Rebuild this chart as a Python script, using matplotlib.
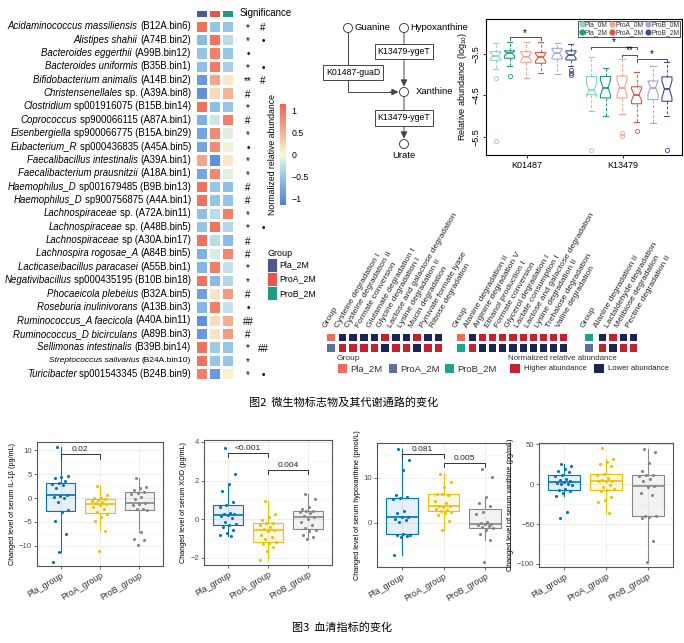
import matplotlib
matplotlib.use('Agg')
import matplotlib.pyplot as plt
from matplotlib.colors import LinearSegmentedColormap, ListedColormap, Normalize
from matplotlib.patches import Rectangle, Circle
from matplotlib.lines import Line2D
import numpy as np

W, H = 684, 643
SANS = ['Liberation Sans', 'DejaVu Sans']
CJK = ['Noto Sans CJK SC', 'DejaVu Sans']
plt.rcParams['font.family'] = SANS
plt.rcParams['mathtext.fontset'] = 'custom'
plt.rcParams['mathtext.rm'] = 'Liberation Sans'
plt.rcParams['mathtext.it'] = 'Liberation Sans:italic'

# ---------------- data: marker species heatmap ----------------
species_italic = [
    'Acidaminococcus massiliensis', 'Alistipes shahii', 'Bacteroides eggerthii',
    'Bacteroides uniformis', 'Bifidobacterium animalis', 'Christensenellales',
    'Clostridium', 'Coprococcus', 'Eisenbergiella', 'Eubacterium_R',
    'Faecalibacillus intestinalis', 'Faecalibacterium prausnitzii',
    'Haemophilus_D', 'Haemophilus_D', 'Lachnospiraceae', 'Lachnospiraceae',
    'Lachnospiraceae', 'Lachnospira rogosae_A', 'Lacticaseibacillus paracasei',
    'Negativibacillus', 'Phocaeicola plebeius', 'Roseburia inulinivorans',
    'Ruminococcus_A faecicola', 'Ruminococcus_D bicirculans',
    'Sellimonas intestinalis', 'Streptococcus salivarius', 'Turicibacter']
species_rest = [
    '(B12A.bin6)', '(A74B.bin2)', '(A99B.bin12)', '(B35B.bin1)', '(A14B.bin2)',
    'sp. (A39A.bin8)', 'sp001916075 (B15B.bin14)', 'sp900066115 (A87A.bin1)',
    'sp900066775 (B15A.bin29)', 'sp000436835 (A45A.bin5)', '(A39A.bin1)',
    '(A18A.bin1)', 'sp001679485 (B9B.bin13)', 'sp900756875 (A4A.bin1)',
    'sp. (A72A.bin11)', 'sp. (A48B.bin5)', 'sp (A30A.bin17)', '(A84B.bin5)',
    '(A55B.bin1)', 'sp000435195 (B10B.bin18)', '(B32A.bin5)', '(A13B.bin3)',
    '(A40A.bin11)', '(A89B.bin3)', '(B39B.bin14)', '(B24A.bin10)',
    'sp001543345 (B24B.bin9)']
abund_pla = [1.0, -0.6, -0.5, -0.55, -0.9, -1.0, 1.0, -0.7, -0.8, -0.8, 0.6, -0.8, 1.0, 1.0,
             -0.55, -0.5, 1.0, -0.7, -0.65, 1.0, -0.85, -0.65, -1.0, -0.9, 1.0, 1.0, 0.9]
abund_proa = [-0.5, 1.0, 0.9, 0.95, 0.6, 0.2, -0.55, -0.2, 0.8, 0.8, -1.0, 0.85, -0.5, -0.5,
              -0.3, 1.0, -0.3, -0.15, 0.9, -0.6, 0.15, 0.9, 0.2, 0.15, -0.45, -0.5, -0.9]
abund_prob = [-0.5, -0.3, -0.5, -0.4, 0.1, 0.5, -0.5, 0.9, -0.1, -0.05, 0.1, -0.1, -0.55, -0.5,
              0.9, -0.35, -0.6, 0.85, -0.25, -0.35, 0.7, -0.25, 0.55, 0.7, -0.5, -0.5, 0.05]
sig_a = ['*', '*', '•', '*', '**', '#', '*', '#', '*', '•', '*', '*', '#', '#',
         '*', '*', '#', '#', '*', '*', '#', '•', '##', '#', '*', '*', '*']
sig_b = ['#', '•', '', '•', '#', '', '', '', '', '', '', '', '', '',
         '', '•', '', '', '', '', '', '', '', '', '##', '', '•']
hm_groups = ['Pla_2M', 'ProA_2M', 'ProB_2M']

# ---------------- data: K01487 / K13479 boxplots (log10) ----------------
ko_genes = ['K01487', 'K13479']
ko_groups = ['Pla_0M', 'Pla_2M', 'ProA_0M', 'ProA_2M', 'ProB_0M', 'ProB_2M']
k01487_hi = [-3.24, -3.21, -3.21, -3.21, -3.24, -3.26]
k01487_q3 = [-3.44, -3.42, -3.44, -3.46, -3.36, -3.42]
k01487_med = [-3.54, -3.48, -3.56, -3.58, -3.48, -3.52]
k01487_q1 = [-3.65, -3.60, -3.70, -3.72, -3.62, -3.64]
k01487_lo = [-3.87, -3.78, -4.07, -3.95, -3.99, -3.78]
k01487_out = [[-4.07, -5.60], [-4.03], [], [], [], [-3.88, -3.95, -4.01]]
k13479_hi = [-3.58, -3.83, -3.62, -3.93, -3.78, -3.69]
k13479_q3 = [-4.04, -4.04, -4.03, -4.29, -4.15, -4.05]
k13479_med = [-4.37, -4.31, -4.31, -4.48, -4.31, -4.35]
k13479_q1 = [-4.48, -4.56, -4.56, -4.70, -4.60, -4.64]
k13479_lo = [-4.88, -5.00, -4.96, -5.13, -5.17, -5.00]
k13479_out = [[-5.83], [], [-5.41, -5.49], [-5.37], [], [-5.82]]

# ---------------- data: pathway heatmaps (1 = higher, 0 = lower) ----------------
pw1_labels = ['Cysteine degradation I', 'Cysteine degradation II', 'Formate conversion',
              'Glutamate degradation I', 'Glycine degradation I',
              'Lactose and galactose degradation', 'Lysine degradation II',
              'Mucin degradation', 'Pyruvate formate lyase', 'Ribose degradation']
pw1_groups = ['Pla_2M', 'ProA_2M']
pw1_top = [0, 0, 0, 0, 1, 0, 0, 1, 0, 0]
pw1_bot = [1, 1, 1, 1, 0, 1, 1, 0, 1, 1]
pw2_labels = ['Alanine degradation II', 'Arginine degradation V', 'Ethanol production I',
              'Formate conversion', 'Glycerol degradation I', 'Lactate consumption I',
              'Lactose and galactose degradation', 'Lysine degradation II',
              'Trehalose degradation', 'Valine degradation']
pw2_groups = ['Pla_2M', 'ProB_2M']
pw2_top = [0, 1, 1, 1, 1, 1, 1, 1, 1, 1]
pw2_bot = [1, 0, 0, 0, 0, 0, 0, 0, 0, 0]
pw3_labels = ['Alanine degradation II', 'Lactaldehyde degradation',
              'Melibiose degradation', 'Pectine degradation II']
pw3_groups = ['ProB_2M', 'ProA_2M']
pw3_top = [0, 1, 0, 0]
pw3_bot = [1, 0, 1, 1]

# ---------------- data: serum indices ----------------
serum_groups = ['Pla_group', 'ProA_group', 'ProB_group']
il1b_pla = [10.6, 4.7, 4.3, 4.1, 3.6, 3.1, 3.0, 2.8, 2.0, 0.7, 0.5, 0.3, 0.0, -0.9,
            -2.6, -2.9, -4.7, -7.5, -11.2, -13.3]
il1b_proa = [2.6, 0.6, 0.0, -0.1, -0.2, -0.4, -0.6, -0.9, -1.1, -1.3, -1.5, -1.8, -2.2,
             -2.9, -3.3, -4.0, -4.8, -6.9, -11.1]
il1b_prob = [4.2, 2.3, 2.1, 1.7, 1.3, 1.1, 0.8, 0.3, -0.3, -1.1, -1.2, -1.4, -2.2, -2.3,
             -2.6, -7.2, -8.5, -8.8, -9.8]
xod_pla = [3.7, 2.35, 1.83, 1.45, 0.9, 0.74, 0.65, 0.3, 0.28, 0.25, 0.22, 0.18, 0.05,
           -0.12, -0.24, -0.3, -0.42, -0.55, -0.72, -0.8, -0.85]
xod_proa = [0.92, 0.28, 0.1, -0.05, -0.18, -0.2, -0.3, -0.4, -0.5, -0.55, -0.6, -0.8,
            -0.9, -1.05, -1.2, -1.22, -1.3, -1.45, -1.65, -2.1]
xod_prob = [1.3, 1.05, 0.62, 0.55, 0.45, 0.42, 0.35, 0.3, 0.15, 0.1, 0.02, -0.15, -0.3,
            -0.45, -0.55, -0.62, -0.8, -0.92, -1.03]
hyp_pla = [16.3, 14.0, 11.8, 6.1, 5.7, 5.4, 5.2, 2.6, 2.1, 1.3, 1.2, 0.8, 0.5, 0.1,
           -2.7, -2.6, -2.8, -3.0, -3.3, -7.2]
hyp_proa = [10.7, 9.1, 8.0, 6.4, 6.2, 6.3, 4.7, 4.3, 3.8, 3.6, 3.4, 3.1, 2.8, 2.6, 2.4,
            2.2, 1.8, 0.4, -1.7]
hyp_prob = [12.0, 10.1, 5.8, 4.3, 3.6, 2.4, 2.0, 0.2, -0.1, -0.2, -0.3, -0.5, -0.7,
            -1.0, -1.2, -1.6, -2.6, -3.8, -8.7]
xan_pla = [25.5, 23.0, 19.0, 16.0, 15.0, 11.5, 10.0, 7.0, 5.0, 3.5, 2.5, 2.0, 0.5, 0.0,
           -1.0, -6.5, -7.0, -8.0, -10.5, -15.0, -34.5, -42.0]
xan_proa = [45.5, 31.5, 27.5, 25.0, 22.5, 13.0, 11.0, 8.0, 5.5, 4.5, 4.2, 3.4, -0.8,
            -4.0, -6.5, -7.2, -9.0, -15.5, -19.5, -22.0, -35.7]
xan_prob = [44.0, 41.0, 26.5, 17.0, 11.5, 11.0, 10.0, 7.0, 4.0, -2.0, -3.0, -11.0,
            -13.5, -39.5, -40.0, -41.0, -42.0, -71.0, -98.0]

# ---------------- figure ----------------
fig = plt.figure(figsize=(W / 100, H / 100), dpi=100)


def px_axes(x0, y0, x1, y1):
    return fig.add_axes([x0 / W, 1 - y1 / H, (x1 - x0) / W, (y1 - y0) / H])


cv = fig.add_axes([0, 0, 1, 1], zorder=10)
cv.set_xlim(0, W)
cv.set_ylim(H, 0)
cv.axis('off')
cv.patch.set_visible(False)
renderer = fig.canvas.get_renderer()

# ---- panel: species heatmap ----
hm_cmap = LinearSegmentedColormap.from_list(
    'hm', [(0, '#4f80dc'), (0.27, '#8fc3e9'), (0.43, '#d4ebe6'), (0.5, '#fcf6d4'),
           (0.72, '#f8b193'), (1, '#f2604e')])
hm_norm = Normalize(-1.15, 1.15)
n_sp = len(species_italic)
top_hm, bot_hm = 19.5, 380.5
row_h = (bot_hm - top_hm) / n_sp

ax_hd = px_axes(195, 8.5, 234, 18)
ax_hd.pcolormesh(np.arange(3).reshape(1, 3),
                 cmap=ListedColormap(['#4a5a8a', '#e4574a', '#1c9c84']),
                 edgecolors='white', linewidth=0.8)
ax_hd.axis('off')

ax_hm = px_axes(195, top_hm, 234, bot_hm)
mat = np.array([abund_pla, abund_proa, abund_prob]).T
mesh = ax_hm.pcolormesh(mat, cmap=hm_cmap, norm=hm_norm, edgecolors='white', linewidth=0.8)
ax_hm.set_ylim(n_sp, 0)
ax_hm.axis('off')

for i in range(n_sp):
    y = top_hm + (i + 0.5) * row_h
    fs = 6.0 if species_italic[i].startswith('Streptococcus') else 6.9
    t = cv.text(191, y, species_rest[i], ha='right', va='center', fontsize=fs)
    bb = t.get_window_extent(renderer)
    xl = cv.transData.inverted().transform((bb.x0, bb.y0))[0]
    cv.text(xl - 0.38 * fs, y, species_italic[i], ha='right', va='center',
            fontsize=fs, style='italic')
    cv.text(248, y + 1.5, sig_a[i], ha='center', va='center', fontsize=7)
    cv.text(263, y + 1.5, sig_b[i], ha='center', va='center', fontsize=7)
cv.text(240, 12.5, 'Significance', ha='left', va='center', fontsize=7)

cax = px_axes(280, 104, 286, 205)
cb = fig.colorbar(mesh, cax=cax, ticks=[-1, -0.5, 0, 0.5, 1])
cb.ax.set_yticklabels(['\u22121', '\u22120.5', '0', '0.5', '1'])
cb.outline.set_visible(False)
cb.ax.tick_params(length=2, width=0.5, color='white', labelsize=6.3, pad=2)
cb.ax.yaxis.set_label_position('left')
cb.ax.set_ylabel('Normalized relative abundance', fontsize=6.3, labelpad=2)

cv.text(267, 254, 'Group', ha='left', va='center', fontsize=6.5)
for k, (g, c) in enumerate(zip(hm_groups, ['#4a5a8a', '#e4574a', '#1c9c84'])):
    cv.add_patch(Rectangle((267, 258 + k * 14.2), 10, 13.5, fc=c, ec='white', lw=0.6))
    cv.text(279, 265 + k * 14.2, g, ha='left', va='center', fontsize=6.3)

# ---- panel: pathway diagram ----
lc = '#444444'
for cx, cy, name in [(348, 28, 'Guanine'), (404, 28, 'Hypoxanthine')]:
    cv.add_patch(Circle((cx, cy), 4.5, fc='white', ec=lc, lw=0.7, zorder=3))
    cv.text(cx + 6.5, cy, name, ha='left', va='center', fontsize=6.8)
cv.add_patch(Circle((404, 92), 4.5, fc='white', ec=lc, lw=0.7, zorder=3))
cv.text(416, 91, 'Xanthine', ha='left', va='center', fontsize=6.8)
cv.add_patch(Circle((404, 144), 4.5, fc='white', ec=lc, lw=0.7, zorder=3))
cv.text(404, 150.5, 'Urate', ha='center', va='top', fontsize=6.8)
arr = dict(arrowstyle='-|>,head_length=0.5,head_width=0.25', color=lc, lw=0.7,
           shrinkA=0, shrinkB=0, mutation_scale=8)
cv.annotate('', xy=(404, 86.5), xytext=(404, 32.5), arrowprops=arr)
cv.annotate('', xy=(404, 138.5), xytext=(404, 96.5), arrowprops=arr)
cv.plot([348, 348, 392], [32.5, 92, 92], color=lc, lw=0.7)
cv.annotate('', xy=(398.5, 92), xytext=(390, 92), arrowprops=arr)
box = dict(boxstyle='square,pad=0.35', fc='white', ec=lc, lw=0.7)
cv.text(404, 51.5, 'K13479-ygeT', ha='center', va='center', fontsize=6.3, bbox=box, zorder=4)
cv.text(353, 72.5, 'K01487-guaD', ha='center', va='center', fontsize=6.3, bbox=box, zorder=4)
cv.text(404, 118, 'K13479-ygeT', ha='center', va='center', fontsize=6.3, bbox=box, zorder=4)

# ---- panel: K01487 / K13479 boxplots ----
ko_colors = ['#8fd4b8', '#17a07a', '#f4a38f', '#e2533d', '#a7a4d1', '#3d4c8c']
offs = [-0.328, -0.182, -0.01, 0.141, 0.313, 0.458]
axk = px_axes(486, 19, 682, 155)
gene_stats = [(k01487_lo, k01487_q1, k01487_med, k01487_q3, k01487_hi, k01487_out),
              (k13479_lo, k13479_q1, k13479_med, k13479_q3, k13479_hi, k13479_out)]
for gi, (lo, q1, med, q3, hi, out) in enumerate(gene_stats):
    stats = []
    for j in range(6):
        half = 0.353 * (q3[j] - q1[j])
        stats.append(dict(whislo=lo[j], q1=q1[j], med=med[j], q3=q3[j], whishi=hi[j],
                          fliers=out[j], cilo=med[j] - half, cihi=med[j] + half))
    pos = [gi + 1 + o for o in offs]
    art = axk.bxp(stats, positions=pos, widths=0.105, shownotches=True,
                  patch_artist=True, manage_ticks=False)
    for j in range(6):
        c = ko_colors[j]
        art['boxes'][j].set(facecolor='white', edgecolor=c, linewidth=0.8)
        art['medians'][j].set(color=c, linewidth=1.3)
        for w in art['whiskers'][2 * j:2 * j + 2]:
            w.set(color=c, linestyle=(0, (3, 2)), linewidth=0.7)
        for cp in art['caps'][2 * j:2 * j + 2]:
            cp.set(color=c, linewidth=0.8)
        art['fliers'][j].set(marker='o', markerfacecolor='none', markeredgecolor=c,
                             markersize=3, markeredgewidth=0.6)
axk.set_xlim(0.573, 2.615)
axk.set_ylim(-5.94, -2.65)
axk.set_xticks([1, 2])
axk.set_xticklabels(ko_genes, fontsize=6.5)
axk.set_yticks([-3.5, -4.5, -5.5])
axk.set_yticklabels(['\u22123.5', '\u22124.5', '\u22125.5'], rotation=90, va='center',
                    fontsize=6.5)
axk.tick_params(length=2.5, width=0.6, pad=1.5)
axk.set_ylabel('Relative abundance (log$_{10}$)', fontsize=6.5, labelpad=2)
for s in axk.spines.values():
    s.set_linewidth(0.8)


def ko_bracket(ax, x1, x2, y, label):
    ax.plot([x1, x1, x2, x2], [y - 0.06, y, y, y - 0.06], color='#333333', lw=0.6)
    ax.text((x1 + x2) / 2, y - 0.01, label, ha='center', va='bottom', fontsize=7)


ko_bracket(axk, 1 + offs[1], 1 + offs[3], -3.09, '*')
ko_bracket(axk, 2 + offs[0], 2 + offs[3], -3.32, '*')
ko_bracket(axk, 2 + offs[2], 2 + offs[3], -3.52, '**')
ko_bracket(axk, 2 + offs[3], 2 + offs[5], -3.62, '*')
handles = [Line2D([], [], marker='o', linestyle='none', markersize=3.4,
                  markerfacecolor=c, markeredgecolor=c) for c in ko_colors]
lg = axk.legend(handles, ko_groups, ncol=3, loc='upper right', fontsize=4.9,
                frameon=True, fancybox=False, borderaxespad=0.25, borderpad=0.15,
                handletextpad=0.0, columnspacing=0.25, labelspacing=0.1,
                handlelength=0.9)
lg.get_frame().set_edgecolor('black')
lg.get_frame().set_linewidth(0.6)
for t in lg.get_texts():
    t.set_color('#333333')

# ---- panel: pathway heatmaps ----
pw_group_col = {'Pla_2M': '#ef6c5a', 'ProA_2M': '#5b6fa3', 'ProB_2M': '#1aa68a'}
pw_cmap = ListedColormap(['#1b2452', '#c8202e'])
pw_specs = [(325, 336.7, 443.3, pw1_groups, pw1_top, pw1_bot, pw1_labels),
            (455, 466.7, 568.3, pw2_groups, pw2_top, pw2_bot, pw2_labels),
            (583, 596.7, 638.3, pw3_groups, pw3_top, pw3_bot, pw3_labels)]
ry0, ry1 = 331.5, 353
for gx, cx0, cx1, grp, top, bot, labels in pw_specs:
    axg = px_axes(gx, ry0, gx + 10.5, ry1)
    axg.pcolormesh(np.array([[0], [1]]),
                   cmap=ListedColormap([pw_group_col[grp[0]], pw_group_col[grp[1]]]),
                   edgecolors='white', linewidth=0.8)
    axg.set_ylim(2, 0)
    axg.axis('off')
    axc = px_axes(cx0, ry0, cx1, ry1)
    axc.pcolormesh(np.array([top, bot]), cmap=pw_cmap, vmin=0, vmax=1,
                   edgecolors='white', linewidth=0.8)
    axc.set_ylim(2, 0)
    axc.axis('off')
    cw = (cx1 - cx0) / len(labels)
    cv.text(gx + 5.25 - 2.5, 329, 'Group', rotation=60, rotation_mode='anchor',
            ha='left', va='bottom', fontsize=6.0, color='#222222')
    for k, lab in enumerate(labels):
        cv.text(cx0 + (k + 0.5) * cw - 2.5, 329, lab, rotation=60, rotation_mode='anchor',
                ha='left', va='bottom', fontsize=6.0, color='#222222')

cv.text(337, 359, 'Group', ha='left', va='center', fontsize=6, color='#333333')
for x, g in [(338, 'Pla_2M'), (388.5, 'ProA_2M'), (445, 'ProB_2M')]:
    cv.add_patch(Rectangle((x, 364), 8.5, 9, fc=pw_group_col[g], ec='none'))
    cv.text(x + 12, 368.7, g, ha='left', va='center', fontsize=6.8, color='#333333')
cv.text(508, 359, 'Normalized relative abundance', ha='left', va='center', fontsize=5.7,
        color='#333333')
for x, c, lab in [(509.5, '#c8202e', 'Higher abundance'), (593.5, '#1b2452', 'Lower abundance')]:
    cv.add_patch(Rectangle((x, 364), 10, 9, fc=c, ec='none'))
    cv.text(x + 15, 368.7, lab, ha='left', va='center', fontsize=5.5, color='#222222')

cv.text(344, 402, '图2  微生物标志物及其代谢通路的变化', ha='center', va='center',
        fontsize=8, family=CJK)

# ---- panel: serum boxplots ----
serum_colors = ['#0073C2', '#EFC000', '#868686']


def serum_panel(rect, data, ylim, yticks, yminor, ylabel, brackets, tick_h):
    ax = px_axes(*rect)
    bp = ax.boxplot(data, positions=[1, 2, 3], widths=0.75, patch_artist=True,
                    showfliers=False, showcaps=False, whis=1.5, manage_ticks=False)
    for j, c in enumerate(serum_colors):
        bp['boxes'][j].set(facecolor=matplotlib.colors.to_rgba(c, 0.1), edgecolor=c,
                           linewidth=0.8)
        bp['medians'][j].set(color=c, linewidth=1.2)
        for w in bp['whiskers'][2 * j:2 * j + 2]:
            w.set(color=c, linewidth=0.8)
        vals = np.asarray(data[j])
        jit = ((np.arange(len(vals)) * 0.618034 + 0.3) % 1 - 0.5) * 0.42
        ax.scatter(j + 1 + jit, vals, s=5, color=c, zorder=3, linewidths=0)
    for i, j, y, lab in brackets:
        ax.plot([i, i, j, j], [y - tick_h, y, y, y - tick_h], color='#333333', lw=0.7)
        ax.text((i + j) / 2, y + tick_h * 0.3, lab, ha='center', va='bottom', fontsize=6,
                color='#222222')
    ax.set_xlim(0.4, 3.6)
    ax.set_ylim(*ylim)
    ax.set_yticks(yticks)
    ax.set_yticks(yminor, minor=True)
    ax.set_yticklabels([('\u2212' + str(abs(v))) if v < 0 else str(v) for v in yticks])
    ax.set_xticks([1, 2, 3])
    ax.set_xticklabels(serum_groups, rotation=30, ha='right', rotation_mode='anchor')
    ax.grid(True, which='major', color='#ebebeb', lw=0.6)
    ax.grid(True, which='minor', axis='y', color='#f3f3f3', lw=0.4)
    ax.set_axisbelow(True)
    ax.tick_params(axis='both', which='major', length=2, width=0.5, color='#333333',
                   labelsize=5.6, labelcolor='#4d4d4d', pad=1.5)
    ax.tick_params(axis='y', which='minor', length=0)
    ax.tick_params(axis='x', labelsize=6.3, labelcolor='#333333')
    for s in ax.spines.values():
        s.set_color('#555555')
        s.set_linewidth(0.8)
    ax.set_ylabel(ylabel, fontsize=5.2, labelpad=2)
    return ax


serum_panel((37, 442, 163, 566), [il1b_pla, il1b_proa, il1b_prob], (-14.2, 11.7),
            [-10, -5, 0, 5, 10], [-12.5, -7.5, -2.5, 2.5, 7.5],
            'Changed level of serum IL-1\u03b2 (pg/mL)', [(1, 2, 9.1, '0.02')], 0.85)
serum_panel((204, 440, 332, 565), [xod_pla, xod_proa, xod_prob], (-2.37, 4.1),
            [-2, 0, 2, 4], [-1, 1, 3],
            'Changed level of serum XOD (pg/mL)',
            [(1, 2, 3.42, '<0.001'), (2, 3, 2.55, '0.004')], 0.2)
serum_panel((377, 443, 510, 567), [hyp_pla, hyp_proa, hyp_prob], (-9.87, 17.7),
            [0, 10], [-5, 5, 15],
            'Changed level of serum hypoxanthine (pmol/L)',
            [(1, 2, 15.3, '0.081'), (2, 3, 13.2, '0.005')], 0.9)
serum_panel((539, 443, 673, 567), [xan_pla, xan_proa, xan_prob], (-103.9, 51.7),
            [-100, -50, 0, 50], [-75, -25, 25],
            'Changed level of serum xanthine (pg/mL)', [], 1)

cv.text(342, 627, '图3  血清指标的变化', ha='center', va='center', fontsize=8, family=CJK)

fig.savefig('out.png', dpi=100)
